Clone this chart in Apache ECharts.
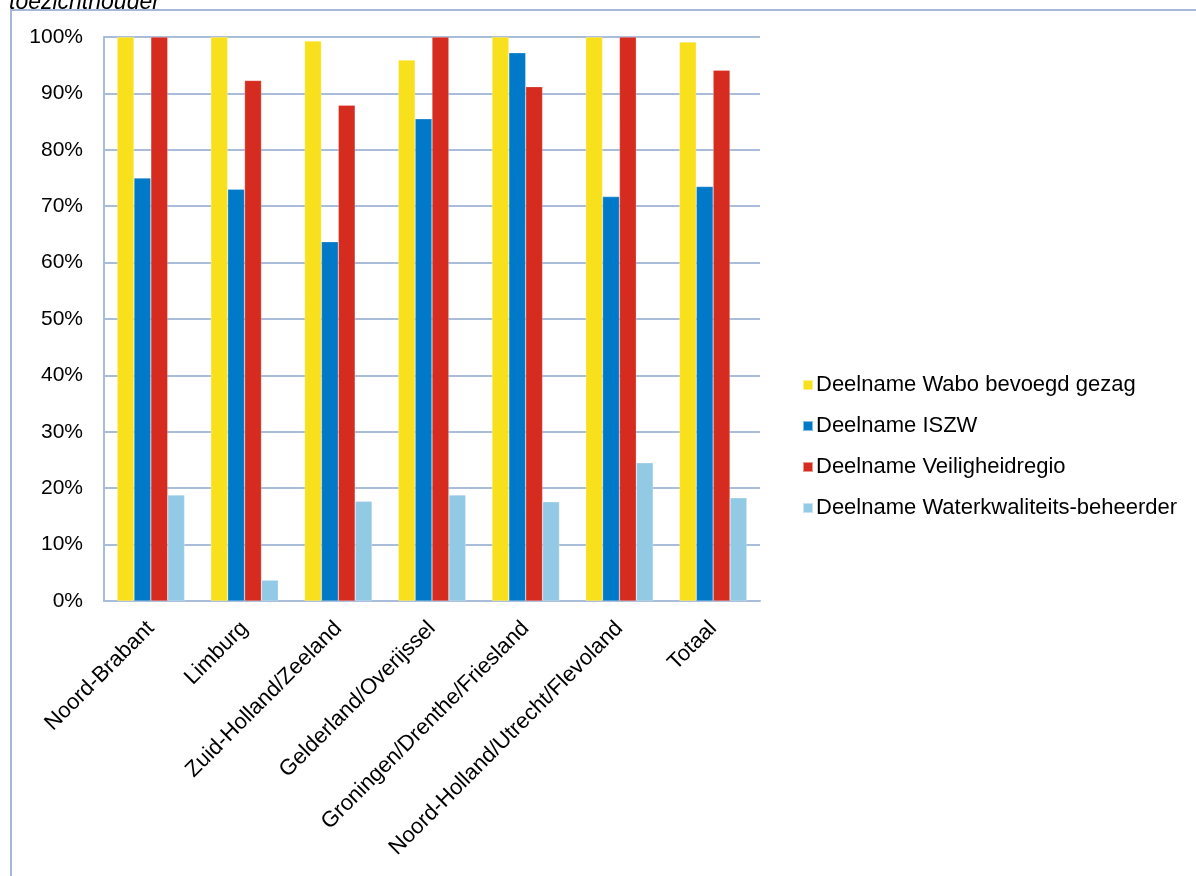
<!DOCTYPE html>
<html>
<head>
<meta charset="utf-8">
<script src="https://cdn.jsdelivr.net/npm/echarts@6/dist/echarts.min.js"></script>
<style>
html,body{margin:0;padding:0;background:#fff;}
#main{width:1196px;height:876px;}
</style>
</head>
<body>
<div id="main"></div>
<script>
const categories = ['Noord-Brabant','Limburg','Zuid-Holland/Zeeland','Gelderland/Overijssel','Groningen/Drenthe/Friesland','Noord-Holland/Utrecht/Flevoland','Totaal'];
const seriesNames = ['Deelname Wabo bevoegd gezag','Deelname ISZW','Deelname Veiligheidregio','Deelname Waterkwaliteits-beheerder'];
const wabo = [100, 100, 99.3, 95.9, 100, 100, 99.1];
const iszw = [75.0, 73.0, 63.7, 85.5, 97.2, 71.7, 73.5];
const veiligheid = [100, 92.3, 87.9, 100, 91.2, 100, 94.1];
const water = [18.8, 3.7, 17.7, 18.8, 17.6, 24.5, 18.3];
const yTicks = [0,10,20,30,40,50,60,70,80,90,100];

const colors = ['#F8E11C','#0079C8','#D62B1F','#92CAE6'];
const font = '"Liberation Sans", Arial, sans-serif';
const gridColor = '#A9BDDA';

const chart = echarts.init(document.getElementById('main'));
const dataSets = [wabo, iszw, veiligheid, water];
chart.setOption({
  animation: false,
  color: colors,
  graphic: [
    {type:'rect', shape:{x:11, y:10, width:1300, height:1000}, style:{fill:'none', stroke:'#A4B8D8', lineWidth:2}},
    {type:'text', x:9, y:14, style:{text:'toezichthouder', font:'italic 23px "Liberation Sans", Arial, sans-serif', fill:'#000', textVerticalAlign:'bottom'}}
  ],
  legend: {
    orient: 'vertical',
    left: 797,
    top: 369,
    itemWidth: 10,
    itemHeight: 10,
    itemGap: 19,
    icon: 'rect',
    data: seriesNames,
    textStyle: {fontFamily: font, fontSize: 22, color: '#000', lineHeight: 22, padding:[0,0,0,-2]}
  },
  grid: {left: 104, right: 436, top: 37, bottom: 275, containLabel: false},
  xAxis: {
    type: 'category',
    data: categories,
    axisLine: {show: true, lineStyle: {color: gridColor, width: 2}},
    axisTick: {show: false},
    axisLabel: {rotate: 45, fontFamily: font, fontSize: 22, color: '#000', margin: 24, interval: 0}
  },
  yAxis: {
    type: 'value',
    min: 0, max: 100, interval: 10,
    axisLine: {show: true, lineStyle: {color: gridColor, width: 2}},
    axisTick: {show: false},
    splitLine: {lineStyle: {color: gridColor, width: 2}},
    axisLabel: {fontFamily: font, fontSize: 21, color: '#000', margin: 21, formatter: v => yTicks.includes(v) ? v + '%' : ''}
  },
  series: seriesNames.map((n, i) => ({
    name: n,
    type: 'bar',
    data: dataSets[i],
    barGap: '0%',
    barCategoryGap: '28%',
    itemStyle: {color: colors[i], borderColor: 'rgba(255,255,255,0.5)', borderWidth: 0.5}
  }))
});
</script>
</body>
</html>
